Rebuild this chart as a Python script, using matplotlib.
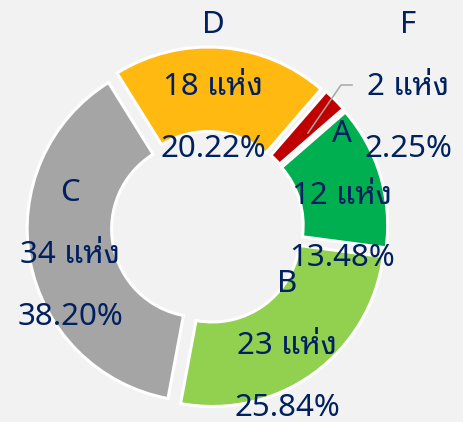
import matplotlib
matplotlib.use("Agg")
import matplotlib.pyplot as plt

# data
categories = ["A", "B", "C", "D", "F"]
counts = [12, 23, 34, 18, 2]
unit = "แห่ง"
colors = ["#00B050", "#92D050", "#A5A5A5", "#FFB911", "#C00000"]

W, H = 463, 422
BG = "#F2F2F2"
NAVY = "#002060"
plt.rcParams["font.family"] = ["Noto Sans", "Noto Sans Thai Looped", "DejaVu Sans"]

fig = plt.figure(figsize=(W / 100, H / 100), dpi=100, facecolor=BG)
ax = fig.add_axes([0, 0, 1, 1])

# ring geometry in pixels (y measured from the top of the image)
cx, cy = 207.5, 227.5
r_out, r_in = 172.5, 88
gap = 8

ax.pie(counts, colors=colors, startangle=41, counterclock=False,
       center=(cx, H - cy), radius=r_out, explode=[gap] * len(counts),
       wedgeprops=dict(width=r_out - r_in, edgecolor="white", linewidth=2.2),
       frame=True)
ax.set_xlim(0, W)
ax.set_ylim(0, H)
ax.set_aspect("equal")
ax.axis("off")

total = sum(counts)
# top line of each label block (x, y), lines step down by `step`
label_pos = {
    "A": (342, 131),
    "B": (287, 281),
    "C": (70, 190),
    "D": (213, 22),
    "F": (408, 22),
}
step = 62
fs = 22.5
cap = fs * 100 / 72 * 0.714
for cat, n in zip(categories, counts):
    x, y = label_pos[cat]
    lines = [cat, "%d %s" % (n, unit), "%.2f%%" % (100 * n / total)]
    for i, s in enumerate(lines):
        ax.text(x, H - (y + i * step) - cap / 2, s, ha="center", va="baseline",
                fontsize=fs, color=NAVY)

# leader line for the thin slice F
ax.plot([352, 341, 308], [H - 85, H - 85, H - 133], color="#A6A6A6", lw=1.1)

fig.savefig("out.png", dpi=100, facecolor=BG)
